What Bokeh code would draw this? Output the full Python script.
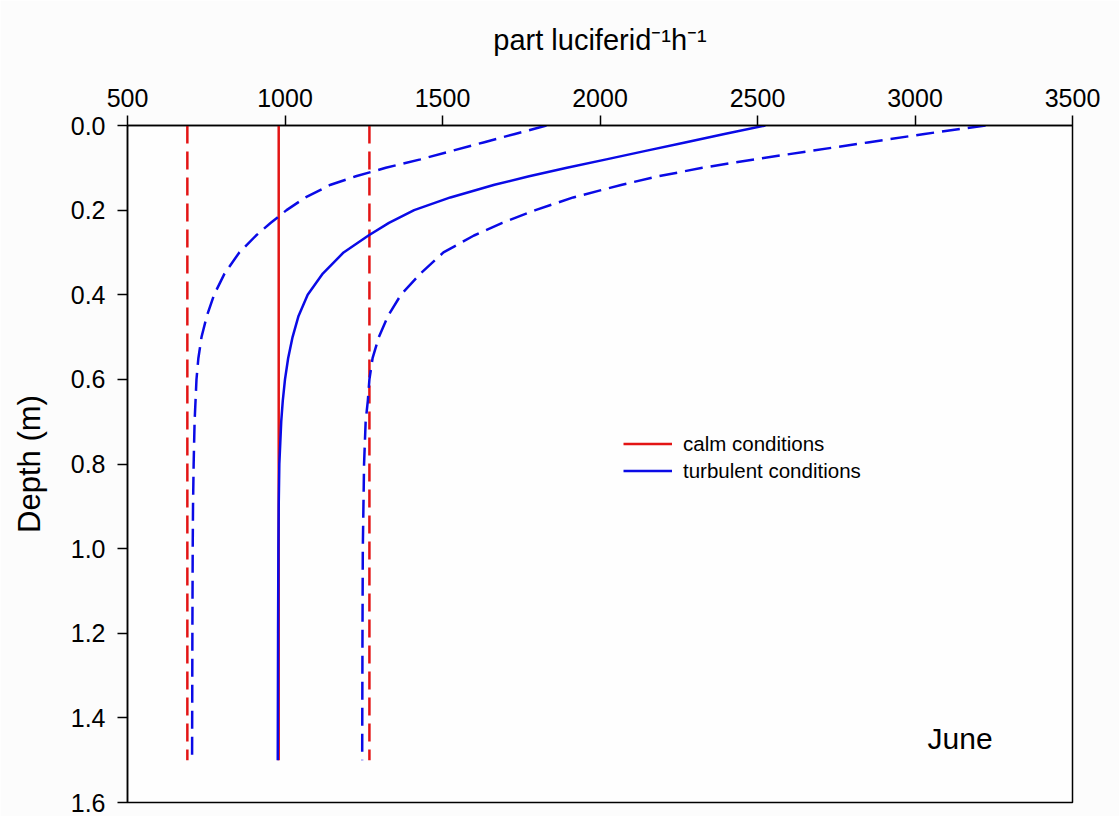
from bokeh.plotting import figure
from bokeh.models import Range1d, Legend, LegendItem, FixedTicker, NumeralTickFormatter, Label
from bokeh.embed import file_html
from bokeh.resources import INLINE

# ---- data ----
calm_depth = [0.0, 1.5]
calm_mean = [980, 980]
calm_low = [690, 690]
calm_high = [1268, 1268]

depth = [0.0, 0.02, 0.04, 0.06, 0.08, 0.10, 0.12, 0.14, 0.17, 0.20, 0.23, 0.26, 0.30,
         0.35, 0.40, 0.45, 0.50, 0.55, 0.60, 0.65, 0.70, 0.80, 0.90, 1.00, 1.20, 1.50]
turb_mean = [2525, 2395, 2270, 2145, 2020, 1895, 1775, 1665, 1525, 1410, 1330, 1265, 1186,
             1120, 1072, 1043, 1024, 1010, 1000, 993, 988, 982, 980, 979, 978, 977]
turb_low = [1830, 1730, 1630, 1530, 1430, 1320, 1225, 1145, 1065, 1005, 955, 908, 855,
            808, 775, 752, 735, 725, 719, 716, 713, 710, 708, 707, 706, 705]
turb_high = [3224, 3030, 2850, 2670, 2490, 2325, 2185, 2070, 1915, 1795, 1690, 1600, 1503,
             1430, 1368, 1327, 1298, 1278, 1268, 1263, 1256, 1251, 1249, 1247, 1246, 1245]

x_ticks = [500, 1000, 1500, 2000, 2500, 3000, 3500]
y_ticks = [0.0, 0.2, 0.4, 0.6, 0.8, 1.0, 1.2, 1.4, 1.6]

RED = "#e31414"
BLUE = "#0a0ae6"
FONT = "Liberation Sans"

p = figure(width=1119, height=816, output_backend="svg", toolbar_location=None,
           x_axis_location="above",
           x_range=Range1d(500, 3500), y_range=Range1d(1.6, 0.0),
           min_border_left=127, min_border_right=47, min_border_top=125, min_border_bottom=14)

p.background_fill_color = "#fefefe"
p.border_fill_color = "#fcfcfc"
p.xgrid.visible = False
p.ygrid.visible = False
p.outline_line_color = "black"
p.outline_line_width = 1.5

xa = p.xaxis[0]
xa.ticker = FixedTicker(ticks=x_ticks)
xa.axis_label = "part luciferid\u207b\u00b9h\u207b\u00b9"
ya = p.yaxis[0]
ya.ticker = FixedTicker(ticks=y_ticks)
ya.formatter = NumeralTickFormatter(format="0.0")
ya.axis_label = "Depth (m)"

for ax in (xa, ya):
    ax.axis_line_color = "black"
    ax.axis_line_width = 1.5
    ax.major_tick_line_color = "black"
    ax.major_tick_line_width = 1.5
    ax.major_tick_out = 10
    ax.major_tick_in = 0
    ax.minor_tick_line_color = None
    ax.major_label_text_font = FONT
    ax.major_label_text_font_size = "25px"
    ax.major_label_text_color = "black"
    ax.axis_label_text_font = FONT
    ax.axis_label_text_font_style = "normal"
    ax.axis_label_text_color = "black"

xa.major_label_standoff = 9
xa.axis_label_standoff = 30
xa.axis_label_text_font_size = "29px"
ya.major_label_standoff = 12
ya.axis_label_standoff = 21
ya.axis_label_text_font_size = "31px"

# calm conditions (red)
r_calm = p.line(calm_mean, calm_depth, line_color=RED, line_width=2.5)
p.line(calm_low, calm_depth, line_color=RED, line_width=2.5, line_dash="18 8")
p.line(calm_high, calm_depth, line_color=RED, line_width=2.5, line_dash="18 8")

# turbulent conditions (blue)
r_turb = p.line(turb_mean, depth, line_color=BLUE, line_width=2.5)
p.line(turb_low, depth, line_color=BLUE, line_width=2.5, line_dash="18 8")
p.line(turb_high, depth, line_color=BLUE, line_width=2.5, line_dash="18 8")

legend = Legend(items=[LegendItem(label="calm conditions", renderers=[r_calm]),
                       LegendItem(label="turbulent conditions", renderers=[r_turb])],
                location=(496, 318), orientation="vertical",
                border_line_color=None, background_fill_alpha=0,
                padding=0, margin=0, spacing=0,
                glyph_width=49, glyph_height=27, label_height=27, label_standoff=11,
                label_text_font=FONT, label_text_font_size="20.5px", label_text_color="black")
p.add_layout(legend)

p.add_layout(Label(x=3040, y=1.448, text="June", text_font=FONT, text_font_size="30px",
                   text_color="black", text_baseline="alphabetic"))

open("out.html", "w").write(file_html(p, INLINE))
